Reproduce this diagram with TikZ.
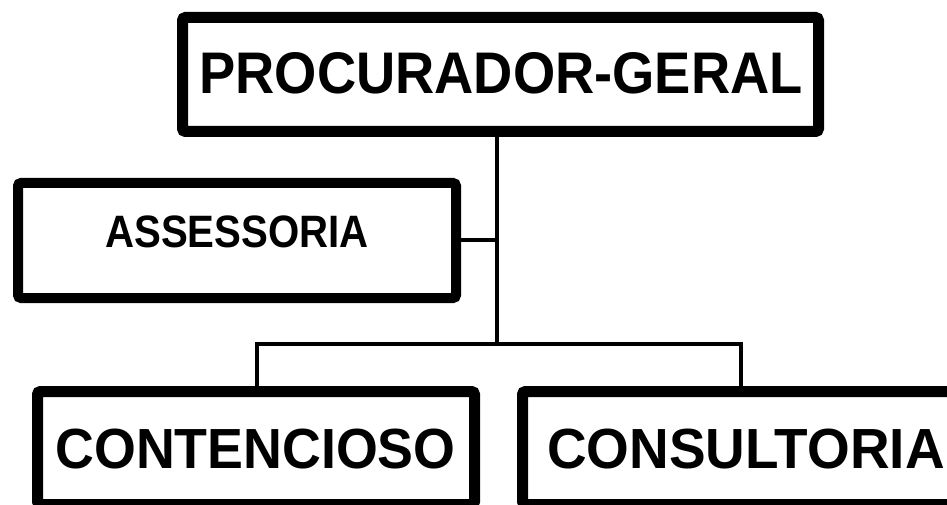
\documentclass[tikz,border=0pt]{standalone}
\usepackage{fontspec}
\setmainfont{Liberation Sans}
\begin{document}
\begin{tikzpicture}[x=1pt,y=-1pt,
  orgbox/.style={draw=black, fill=white, rounded corners=3pt, inner sep=0pt, line width=#1},
  orgbox/.default=11pt,
  lbl/.style={inner sep=0pt, anchor=base, font=\bfseries},
  conn/.style={draw=black, line width=4pt}]
\useasboundingbox[fill=white] (0,0) rectangle (947,505);
% boxes
\node[orgbox, minimum width=636pt, minimum height=114pt] (pg) at (500.5,74.5) {};
\node[orgbox=10pt, minimum width=438pt, minimum height=115pt] (as) at (237,240.5) {};
\node[orgbox, minimum width=437pt, minimum height=113pt] (ct) at (256,448) {};
\node[orgbox, minimum width=437pt, minimum height=113pt] (cs) at (741,448) {};
% labels
\node[lbl] (tpg) at (501,93.5) {\fontsize{58.7pt}{60pt}\selectfont\scalebox{0.925}[1]{PROCURADOR-GERAL}};
\node[lbl] (tas) at (237,247.5) {\fontsize{45.4pt}{47pt}\selectfont\scalebox{0.885}[1]{ASSESSORIA}};
\node[lbl] (tct) at (255.5,468) {\fontsize{56.6pt}{58pt}\selectfont\scalebox{0.95}[1]{CONTENCIOSO}};
\node[lbl] (tcs) at (746,468) {\fontsize{56.6pt}{58pt}\selectfont\scalebox{0.97}[1]{CONSULTORIA}};
% connectors
\coordinate (top) at (497,137);
\coordinate (mid) at (497,344);
\coordinate (aj) at (497,240);
\coordinate (lj) at (257,344);
\coordinate (rj) at (741,344);
\draw[conn] (top) -- (mid);
\draw[conn] (as.east |- aj) -- (aj);
\draw[conn, line cap=rect] (lj) -- (rj);
\draw[conn] (lj) -- (lj |- ct.north);
\draw[conn] (rj) -- (rj |- cs.north);
\end{tikzpicture}
\end{document}
